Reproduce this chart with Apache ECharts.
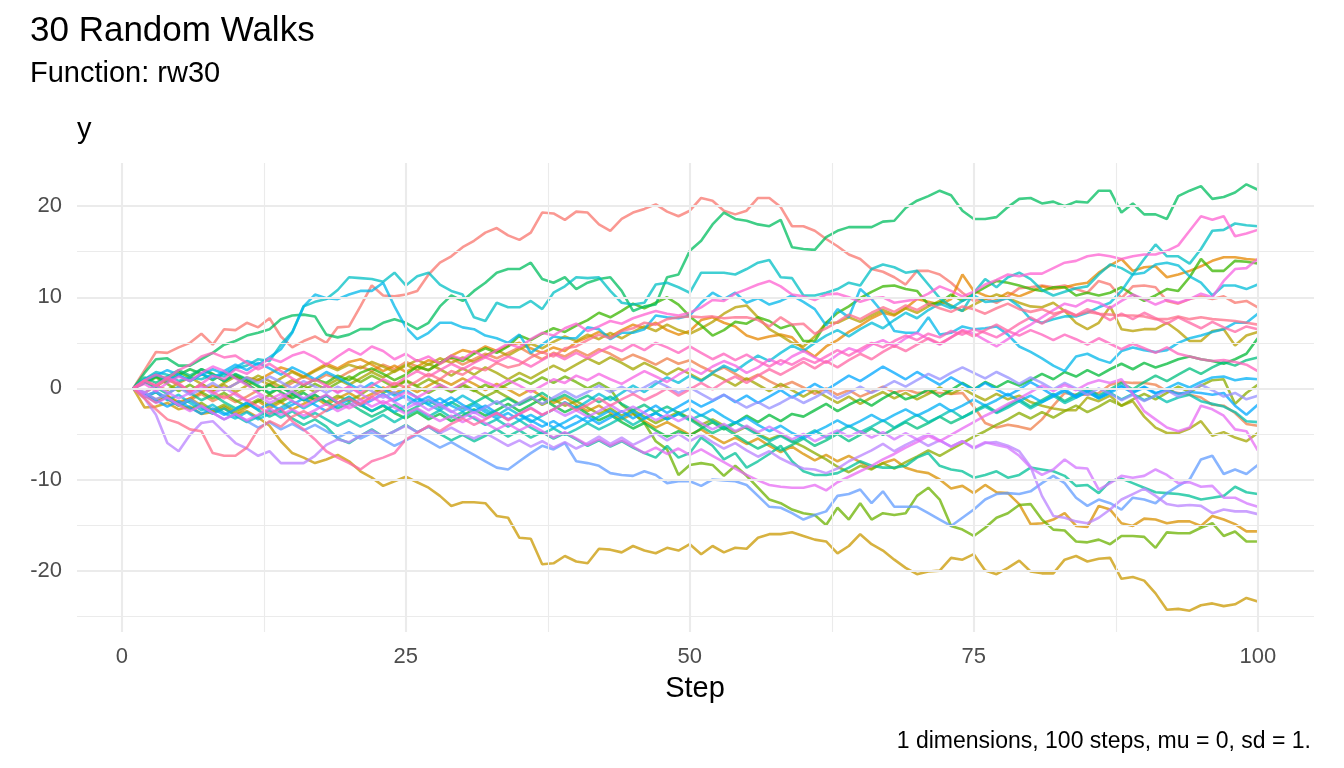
<!DOCTYPE html>
<html><head><meta charset="utf-8">
<script src="https://cdn.jsdelivr.net/npm/echarts@6/dist/echarts.min.js"></script>
<style>html,body{margin:0;padding:0;background:#fff}#chart{width:1344px;height:768px}</style>
</head><body><div id="chart"></div>
<script>
// ---- data: 30 random walks, values at steps 1..100 ----
const rw01 = [0,2.0,4.0,3.9,4.5,5.0,6.0,4.8,6.5,6.4, 7.2,6.7,7.7,5.7,4.5,5.2,5.7,5.0,6.7,6.8, 9.0,11.3,10.2,10.1,10.3,10.7,12.5,13.8,14.5,15.5, 16.2,17.1,17.6,16.8,16.3,17.1,19.3,19.2,18.5,19.4, 19.3,18.0,17.3,18.6,19.3,19.7,20.2,19.4,18.9,19.5, 20.9,20.6,19.5,19.1,19.5,20.9,20.9,19.9,17.8,17.8, 17.3,16.4,15.6,14.7,14.2,13.1,12.8,12.2,11.4,12.9, 12.9,12.5,11.6,10.5,9.6,9.9,9.4,10.1,11.0,11.1, 11.3,11.1,11.3,10.9,10.5,11.8,11.4,9.9,11.2,11.3, 11.1,9.6,9.3,9.8,10.1,9.8,10.1,9.4,9.6,8.9];
const rw02 = [0,-0.9,-0.4,-1.2,-1.9,-1.3,-0.6,-1.4,-0.8,-1.5, -0.9,-0.2,0.5,-0.1,0.6,1.3,0.8,1.5,1.1,1.8, 2.4,1.9,2.6,2.1,2.9,2.4,2.0,2.7,3.3,2.6, 3.2,3.8,3.3,3.9,4.5,3.8,3.2,3.9,3.5,4.2, 3.6,4.3,3.8,3.1,3.7,3.2,2.6,3.3,2.7,3.1, 2.4,1.8,2.3,1.6,0.9,1.5,0.8,0.2,0.7,0.1, -0.6,0.0,-0.7,-0.2,-0.9,-0.4,0.2,-0.5,-0.1,-0.5, -0.4,-0.5,-0.6,-0.5,-2.0,-3.8,-4.3,-4.0,-4.2,-4.5, -3.4,-1.9,-0.5,-0.7,-0.7,-0.5,0.4,0.7,0.6,0.6, 0.4,-0.3,-0.5,-0.7,-1.0,-1.8,-1.9,-2.7,-3.9,-4.1];
const rw03 = [0,-0.6,-1.2,-0.8,-1.5,-1.1,-0.4,0.3,-0.2,0.5, 1.2,0.9,1.6,2.3,1.9,1.3,2.0,2.7,2.2,2.9, 3.2,2.6,1.9,2.5,1.8,2.4,3.1,2.8,3.6,4.2, 3.9,4.6,4.1,4.7,5.0,4.4,3.9,4.5,4.1,5.1, 5.6,6.2,5.7,6.4,7.0,6.6,7.2,6.4,5.9,6.3, 7.5,7.8,7.2,6.8,5.8,5.4,5.7,5.9,5.6,4.3, 3.5,4.6,5.3,6.2,6.9,7.7,8.3,8.0,8.8,9.8, 9.5,9.2,9.8,12.5,10.7,10.2,9.8,10.5,10.1,10.6, 11.2,10.9,11.1,11.4,11.6,12.7,13.5,14.2,12.9,13.3, 13.4,12.2,12.5,12.9,13.4,14.0,14.4,14.4,14.2,14.1];
const rw04 = [0,-0.8,-1.5,-0.9,-1.7,-1.1,-1.9,-2.6,-2.0,-2.8, -2.1,-1.4,-2.2,-1.5,-2.3,-1.7,-1.0,-1.8,-1.1,-0.5, -1.2,-0.6,0.1,-0.6,0.2,-0.4,0.3,1.0,0.4,1.1, 0.5,-0.2,0.5,-0.1,-0.8,-0.1,-0.9,-1.6,-1.0,-1.8, -2.5,-1.9,-2.7,-3.4,-2.8,-3.6,-4.3,-3.7,-4.4,-5.1, -4.5,-5.3,-6.0,-5.4,-6.1,-5.5,-6.3,-7.0,-6.4,-7.2, -7.9,-7.3,-8.0,-7.4,-8.1,-8.8,-8.2,-7.8,-8.7,-9.1, -9.3,-10.0,-11.0,-10.7,-11.5,-10.6,-11.4,-11.5,-12.7,-14.9, -14.8,-14.4,-13.7,-15.1,-15.2,-12.9,-13.3,-14.8,-15.1,-14.3, -14.4,-14.8,-14.6,-14.6,-15.1,-14.0,-14.4,-14.9,-15.7,-15.7];
const rw05 = [0,-2.1,-2.0,-1.6,-2.3,-2.0,-2.8,-2.6,-2.2,-2.9, -2.5,-3.2,-4.1,-5.8,-7.1,-7.6,-8.2,-7.8,-7.3,-8.0, -9.1,-9.8,-10.7,-10.2,-9.7,-10.3,-10.9,-11.8,-12.9,-12.5, -12.5,-12.6,-14.0,-14.2,-16.4,-16.5,-19.3,-19.2,-18.4,-19.0, -19.2,-17.6,-17.7,-18.0,-17.3,-17.8,-18.1,-17.5,-17.8,-17.1, -18.2,-17.3,-18.0,-17.5,-17.6,-16.4,-16.0,-16.0,-15.8,-16.2, -16.6,-16.8,-18.1,-17.3,-16.0,-17.1,-17.8,-18.8,-19.7,-20.4, -20.1,-20.0,-18.6,-18.8,-18.2,-20.0,-20.4,-19.7,-18.9,-20.1, -20.3,-20.3,-18.8,-18.4,-19.0,-18.7,-18.6,-20.9,-20.7,-21.1, -22.5,-24.3,-24.2,-24.4,-23.8,-23.6,-23.9,-23.7,-23.0,-23.4];
const rw06 = [0,-0.5,0.3,-0.2,0.6,1.2,0.5,-0.3,0.4,-0.4, 0.3,1.0,0.4,1.1,1.8,1.2,1.9,2.5,2.0,2.6, 2.2,2.9,2.4,1.8,2.5,3.1,2.6,3.3,2.8,3.4, 2.9,3.6,4.2,3.6,4.3,4.9,4.4,5.1,5.7,5.2, 5.9,5.4,6.1,5.5,6.2,6.8,6.3,7.0,6.4,6.0, 6.6,7.3,8.2,8.9,9.1,7.8,6.5,5.8,5.0,4.6, 5.7,7.2,7.2,7.8,7.3,8.0,8.6,8.1,8.8,8.3, 9.0,9.6,9.1,8.5,9.2,9.8,10.3,9.9,9.4,9.0, 8.9,9.4,8.5,7.2,6.5,7.2,9.0,6.5,6.3,6.5, 6.5,7.2,6.3,5.2,5.2,6.3,6.5,4.7,5.8,6.2];
const rw07 = [0,0.8,0.2,1.0,0.4,-0.3,0.5,-0.2,0.6,1.3, 0.7,1.4,0.8,0.2,0.9,0.3,-0.4,0.3,1.0,0.4, 1.1,1.8,1.2,1.9,2.6,2.0,2.7,2.1,1.4,2.2, 1.5,2.3,1.7,1.0,1.7,1.1,1.8,2.5,1.9,2.6, 3.3,2.7,3.4,2.8,2.1,2.8,2.2,1.5,2.2,1.6, 0.9,1.6,1.0,0.3,1.1,0.4,-0.3,0.5,-0.2,-0.9, -0.2,-0.9,-1.6,-0.9,-1.7,-1.0,-0.4,-1.1,-0.5,-1.2, -0.6,0.1,-0.6,0.0,-0.7,-1.3,-0.6,-1.2,-0.8,-1.5, -1.9,-2.2,-2.4,-2.4,-1.0,-1.4,-0.8,-1.9,-1.4,-3.1, -4.3,-4.9,-4.9,-4.4,-3.6,-5.2,-4.8,-5.4,-5.8,-4.9];
const rw08 = [0,-0.7,-1.5,-0.9,-1.7,-2.3,-1.6,-2.4,-1.8,-2.5, -1.9,-1.2,-1.9,-1.3,-0.6,-1.3,-0.7,-1.5,-0.8,-1.4, -0.7,0.1,-0.5,0.2,0.9,0.3,1.0,0.4,-0.3,0.5, -0.2,-0.9,-0.3,-1.0,-1.7,-1.0,-1.8,-1.2,-1.9,-1.4, -2.1,-2.8,-2.2,-3.0,-2.4,-3.1,-3.8,-3.2,-2.6,-3.3, -4.0,-3.4,-4.1,-4.8,-4.2,-5.0,-5.6,-5.1,-5.8,-6.4, -7.1,-7.8,-8.6,-9.2,-8.5,-8.9,-8.2,-8.8,-8.1,-7.5, -6.8,-7.4,-6.7,-6.0,-5.3,-4.7,-4.0,-3.4,-2.7,-3.3, -2.6,-3.2,-2.5,-1.9,-2.6,-2.0,-1.3,-1.9,-1.2,-0.6, -1.2,-0.5,0.2,-0.4,0.3,0.9,1.0,-1.7,-0.5,0.4];
const rw09 = [0,0.6,1.2,0.5,-0.3,0.4,-0.4,-1.1,-0.5,-1.3, -2.0,-1.4,-0.7,-1.5,-0.8,-0.2,0.5,-0.1,0.6,1.3, 0.7,1.4,0.8,0.1,0.8,0.2,-0.5,0.2,-0.4,0.3, -0.3,0.4,-0.2,0.5,1.1,0.5,1.2,0.6,1.3,0.7, 0.0,0.6,-0.1,-1.8,-2.7,-3.8,-5.8,-6.7,-9.5,-8.4, -8.2,-8.4,-9.6,-8.5,-9.6,-10.9,-12.2,-12.6,-13.3,-13.7, -13.9,-15.0,-13.1,-14.4,-12.6,-14.4,-13.7,-13.9,-13.7,-11.8, -10.9,-12.2,-15.1,-15.5,-16.2,-15.3,-14.2,-13.7,-12.8,-12.7, -14.4,-15.5,-15.6,-16.8,-16.9,-16.6,-17.1,-16.2,-16.2,-16.3, -17.5,-15.8,-15.9,-15.9,-15.3,-14.8,-16.2,-15.7,-16.8,-16.8];
const rw10 = [0,0.7,1.5,1.0,1.8,1.2,2.1,1.6,0.8,1.5, 0.9,0.2,-0.6,0.1,-0.5,0.3,1.0,0.6,1.4,0.9, 1.7,2.2,1.6,0.9,1.5,2.4,2.0,2.8,3.5,3.0, 3.8,4.4,3.9,4.6,5.8,5.3,6.0,6.6,6.2,6.9, 7.5,8.3,7.8,8.5,9.3,8.8,9.4,10.0,9.2,7.9, 6.9,5.8,6.4,7.3,7.1,7.8,7.4,6.6,7.0,5.2, 5.2,7.2,8.3,9.0,9.9,10.6,11.2,11.3,10.9,10.7, 9.2,9.4,10.3,9.6,10.4,11.1,11.8,11.6,11.3,10.9, 10.7,11.1,11.1,10.2,10.5,10.2,10.5,11.1,10.3,9.6, 10.2,10.9,10.7,12.2,14.2,12.9,12.9,14.0,13.9,13.7];
const rw11 = [0,0.6,1.3,0.7,1.5,2.1,1.6,0.9,1.7,1.2, 0.5,-0.3,0.4,-0.4,-1.1,-0.5,-1.3,-0.8,-1.6,-1.0, -1.8,-2.5,-1.9,-2.7,-3.3,-2.6,-3.4,-2.8,-3.6,-3.0, -2.3,-3.0,-2.4,-1.7,-2.5,-1.8,-1.1,-1.9,-2.6,-2.0, -2.8,-3.5,-2.9,-3.7,-4.4,-3.8,-4.6,-5.3,-4.7,-5.2, -4.4,-3.7,-4.5,-3.8,-3.0,-3.7,-2.9,-3.6,-2.8,-3.1, -2.4,-1.7,-2.5,-1.8,-1.2,-1.9,-1.1,-0.4,-1.2,-0.8, -0.1,-0.9,-0.2,0.6,-0.1,0.7,0.1,0.8,0.3,0.9, 1.6,1.0,1.8,1.3,2.0,1.4,2.1,2.7,2.1,2.8, 2.3,2.7,3.2,3.5,3.2,3.0,2.7,3.2,3.8,5.5];
const rw12 = [0,1.7,3.2,3.3,2.5,2.5,3.2,3.9,4.8,5.2, 5.8,6.1,6.5,7.6,8.0,8.1,7.9,5.9,5.6,5.9, 6.5,6.5,7.2,7.6,7.2,6.5,7.2,9.0,10.2,9.6, 10.7,11.6,12.7,13.1,13.1,13.8,12.0,11.6,12.2,10.9, 11.6,12.0,12.2,10.7,8.5,9.0,9.2,12.2,12.5,15.1, 16.2,18.0,19.3,18.6,18.4,18.0,17.8,18.5,15.5,15.3, 15.2,16.6,17.3,17.7,17.7,17.7,18.3,18.4,19.8,20.6, 21.1,21.7,21.2,19.5,18.6,18.6,18.8,19.9,20.8,20.9, 20.3,20.5,20.0,20.5,20.4,21.7,21.7,19.3,20.3,19.1, 19.1,18.6,21.1,21.7,22.2,20.8,21.0,21.5,22.4,21.8];
const rw13 = [0,1.2,0.6,1.3,2.0,1.4,2.1,1.5,0.8,1.6, 1.0,0.3,-0.5,0.2,-0.6,-1.3,-0.7,-1.5,-2.2,-1.6, -2.4,-3.1,-2.5,-1.8,-2.6,-2.0,-1.3,-2.1,-1.5,-2.2, -1.6,-0.9,-1.7,-1.1,-1.8,-1.2,-0.5,-1.3,-0.7,-1.4, -0.8,-1.5,-0.9,-1.7,-2.4,-1.8,-2.6,-2.0,-2.7,-3.4, -4.2,-4.9,-4.3,-5.1,-5.9,-6.6,-6.0,-6.8,-6.2,-5.5, -6.3,-5.7,-5.0,-5.8,-5.1,-4.4,-5.1,-4.4,-3.7,-4.4, -3.8,-3.1,-3.8,-3.2,-2.5,-1.8,-2.6,-1.9,-1.2,-2.0, -1.3,-0.6,-1.4,-0.7,0.0,-0.8,-0.1,0.6,-0.1,0.7, 1.4,0.8,1.5,2.2,1.6,2.3,2.9,2.5,3.1,3.4];
const rw14 = [0,0.7,0.1,-0.6,0.2,-0.5,-1.3,-0.7,-1.5,-2.2, -1.6,-2.4,-3.1,-2.5,-3.3,-4.0,-3.4,-4.2,-5.5,-6.0, -5.2,-4.5,-5.3,-4.7,-4.0,-4.8,-4.2,-5.0,-5.7,-5.1, -5.8,-5.2,-4.5,-5.3,-4.6,-5.4,-4.8,-5.5,-4.9,-5.6, -6.3,-5.7,-6.4,-5.8,-6.5,-7.1,-7.6,-6.3,-7.6,-7.1, -5.4,-6.3,-7.8,-7.1,-8.7,-8.0,-7.2,-6.3,-8.0,-9.1, -9.5,-9.5,-9.3,-8.7,-8.0,-8.5,-8.7,-8.7,-8.5,-7.6, -7.1,-8.5,-8.9,-9.1,-9.8,-9.5,-9.1,-9.8,-9.5,-8.7, -8.9,-9.1,-9.6,-10.7,-10.6,-11.5,-10.2,-9.9,-10.4,-10.9, -11.4,-11.5,-11.6,-11.8,-12.2,-12.0,-11.8,-10.8,-11.4,-11.6];
const rw15 = [0,-1.0,-0.4,-1.1,-1.9,-1.3,-2.1,-2.8,-2.2,-3.0, -3.7,-3.1,-2.4,-3.2,-2.5,-3.3,-2.7,-3.4,-4.1,-3.5, -4.2,-3.6,-2.9,-3.7,-3.0,-2.3,-3.1,-2.4,-3.2,-2.6, -3.3,-4.0,-3.4,-4.2,-3.5,-4.3,-5.0,-4.4,-5.1,-4.5, -3.8,-4.5,-3.9,-3.2,-4.0,-3.3,-2.7,-3.4,-2.8,-3.5, -2.9,-3.6,-4.3,-3.7,-4.4,-5.1,-5.8,-5.2,-5.9,-5.3, -4.6,-5.4,-4.8,-4.1,-4.8,-4.2,-3.5,-4.3,-3.6,-2.9, -3.7,-3.1,-2.4,-3.2,-2.6,-2.0,-2.7,-2.1,-1.4,-2.2, -1.5,-0.8,-1.6,-1.0,-0.3,-1.1,-0.5,-1.2,-0.6,-1.3, -0.8,-1.5,-1.0,-0.7,-1.4,-1.7,-2.0,-2.6,-3.6,-3.7];
const rw16 = [0,1.0,1.8,1.5,0.8,1.2,1.0,1.5,1.3,2.2, 2.5,3.2,3.0,4.8,6.2,9.0,9.5,9.8,10.8,12.2, 12.1,12.0,11.7,12.7,11.3,12.3,12.7,11.4,10.7,10.3, 7.8,7.4,9.4,8.9,8.9,9.6,8.7,10.5,11.2,12.2, 12.1,12.2,10.7,9.4,9.2,9.4,11.4,11.6,11.1,10.5, 12.7,12.7,12.7,12.5,13.1,13.8,14.1,12.2,12.1,10.2, 10.2,10.5,10.9,11.6,11.3,13.1,13.6,13.3,12.7,12.9, 11.4,9.9,9.0,8.5,10.5,12.0,11.1,12.2,12.7,12.0, 10.8,10.2,10.6,11.0,11.2,12.5,13.6,13.2,12.5,14.2, 15.8,14.5,14.5,13.7,15.3,17.3,17.4,18.1,17.9,17.8];
const rw17 = [0,-0.8,-0.4,-1.3,-0.7,-1.6,-2.4,-1.8,-2.7,-3.3, -2.6,-3.4,-2.8,-2.1,-1.4,-2.2,-1.5,-0.8,-1.6,-0.9, -1.7,-2.5,-1.8,-2.6,-1.9,-1.1,-1.8,-2.4,-1.6,-0.8, -1.5,-2.3,-3.0,-2.2,-2.9,-3.7,-3.0,-2.3,-1.5,-2.2, -1.4,-0.6,-1.3,-0.5,0.3,-0.4,0.5,1.2,0.6,1.4, 0.8,1.7,2.5,1.9,2.8,3.6,3.0,3.9,4.7,4.1, 5.0,5.8,6.4,5.7,6.5,7.2,6.6,7.5,8.3,7.7, 8.6,9.3,8.8,9.6,10.2,9.5,9.6,9.9,9.0,7.6, 7.2,7.6,7.9,7.9,8.3,8.9,9.4,10.7,12.5,12.7, 13.6,13.8,13.5,12.3,11.6,10.2,11.3,11.3,10.9,11.4];
const rw18 = [0,1.0,1.6,0.9,1.4,0.8,1.5,2.1,1.6,2.3, 3.0,2.6,3.4,4.3,6.1,9.0,10.3,9.9,9.8,10.3, 10.7,10.7,11.6,9.0,6.7,5.4,6.1,7.2,7.2,6.7, 6.5,5.8,5.5,5.0,5.9,3.9,4.8,5.7,5.5,5.5, 6.7,6.5,5.4,6.1,6.1,6.5,8.0,7.8,7.7,8.0, 9.4,10.5,9.8,10.5,9.4,9.9,9.2,9.6,10.2,9.5, 8.7,6.9,8.7,7.8,10.9,9.8,8.3,6.3,6.1,6.1, 7.8,5.9,6.1,6.8,6.5,6.6,6.8,5.9,4.6,4.0, 3.3,2.5,1.9,3.5,3.8,3.2,2.8,4.1,4.5,4.2, 4.0,4.2,5.0,5.5,5.8,6.2,6.5,7.2,7.2,8.2];
const rw19 = [0,0.9,1.4,2.0,1.5,0.8,1.6,1.1,1.9,2.6, 2.0,2.8,2.2,1.5,2.3,1.7,1.0,1.8,1.2,0.5, -0.2,0.6,-0.1,-0.8,-0.2,-1.0,-1.7,-1.1,-1.9,-2.5, -1.8,-2.6,-3.3,-2.7,-3.5,-2.9,-3.6,-4.3,-3.7,-3.0, -3.7,-3.1,-2.4,-3.2,-2.5,-3.3,-2.7,-3.4,-2.8,-2.2, -3.0,-2.3,-3.1,-3.8,-3.2,-4.0,-4.7,-4.1,-4.9,-5.5, -4.8,-4.2,-3.5,-4.2,-3.6,-2.9,-3.6,-2.9,-2.3,-3.0, -2.4,-1.7,-2.5,-1.9,-1.2,-1.9,-1.3,-0.6,-1.4,-0.8, -1.5,-0.9,-0.3,-1.0,-0.4,-1.1,-0.5,0.2,-0.5,0.1, -0.6,0.0,0.6,0.1,0.7,1.2,1.3,0.9,1.1,1.0];
const rw20 = [0,-0.6,-1.3,-2.0,-1.4,-2.1,-2.8,-2.2,-2.9,-2.3, -1.6,-2.3,-1.7,-2.4,-1.8,-1.1,-1.8,-2.5,-1.9,-1.2, -1.9,-1.3,-0.6,-1.4,-0.8,-1.5,-0.9,-1.7,-1.0,-1.8, -2.5,-1.9,-2.7,-3.4,-2.8,-3.5,-4.2,-3.6,-4.4,-3.8, -3.1,-3.9,-3.2,-2.5,-3.3,-2.6,-1.9,-2.7,-2.0,-1.3, -2.0,-1.4,-0.7,-1.5,-0.8,-1.6,-0.9,-0.2,-1.0,-0.3, 0.5,-0.2,0.6,1.4,0.8,1.6,2.4,1.7,1.0,1.8, 1.1,0.4,1.2,0.5,-0.2,0.6,-0.1,-0.8,-0.1,0.7, 0.0,-0.8,-0.1,-0.9,-0.2,-1.0,-0.3,0.3,-0.4,0.2, -0.5,-0.2,-0.6,-0.4,-0.5,-0.7,-0.5,-1.9,-2.9,-1.8];
const rw21 = [0,-0.9,-0.3,-1.1,-1.8,-1.2,-2.0,-2.7,-3.4,-2.8, -3.6,-4.3,-3.7,-4.5,-3.9,-4.6,-4.0,-4.7,-5.4,-4.8, -5.5,-4.9,-5.6,-6.3,-5.7,-5.1,-5.8,-6.5,-5.9,-6.6, -7.3,-8.0,-8.7,-8.9,-8.0,-7.1,-6.3,-6.7,-6.0,-8.0, -8.2,-8.5,-9.3,-9.5,-9.6,-9.1,-9.5,-10.4,-10.2,-10.2, -10.7,-10.0,-10.1,-10.2,-10.6,-11.8,-13.0,-13.1,-13.7,-14.4, -13.9,-13.5,-11.8,-11.6,-11.1,-12.6,-11.3,-13.0,-13.0,-13.0, -13.7,-14.4,-15.1,-14.2,-13.3,-12.2,-11.6,-11.5,-11.6,-11.3, -10.4,-9.6,-10.4,-12.0,-12.9,-12.2,-12.6,-13.3,-12.0,-12.2, -12.6,-11.5,-10.7,-10.0,-7.8,-7.4,-9.4,-8.9,-9.4,-8.4];
const rw22 = [0,-0.4,-1.2,-0.6,0.1,-0.7,-0.1,0.6,-0.2,0.5, 1.2,0.6,1.3,0.7,0.0,0.8,0.2,-0.5,0.2,-0.4, 0.3,-0.3,-1.0,-0.4,-1.1,-1.8,-1.2,-1.9,-2.6,-2.0, -2.7,-2.1,-1.4,-2.2,-1.6,-0.9,-1.7,-1.0,-0.3,-1.0, -0.4,0.3,-0.4,0.2,-0.5,0.1,0.8,0.2,-0.5,0.1, -0.6,-1.3,-0.7,-1.4,-2.1,-1.5,-2.2,-1.6,-0.9,-1.6, -1.0,-0.3,-1.1,-0.5,0.2,-0.5,0.1,0.8,0.2,0.9, 1.6,1.0,1.7,2.3,1.7,1.1,1.8,1.2,0.5,1.2, 0.6,-0.1,0.6,0.0,-0.7,0.0,-0.6,-1.3,-0.7,-1.4, -0.8,-0.2,-0.9,-0.3,0.4,-0.2,-0.9,-0.5,-1.2,-0.8];
const rw23 = [0,-1.1,-2.9,-6.0,-6.9,-5.1,-3.8,-3.6,-4.8,-6.0, -6.6,-7.4,-6.9,-8.2,-8.2,-8.2,-7.4,-6.2,-5.6,-5.9, -5.2,-4.6,-5.3,-4.7,-4.1,-4.8,-4.2,-4.9,-4.3,-5.0, -5.5,-4.9,-5.6,-6.3,-5.7,-6.4,-5.8,-6.5,-5.9,-6.6, -6.0,-5.3,-6.1,-5.4,-6.2,-5.6,-4.9,-5.7,-5.0,-5.8, -5.1,-5.9,-6.6,-6.0,-6.8,-7.5,-6.9,-7.7,-8.3,-8.8, -8.9,-9.3,-8.8,-8.0,-7.4,-6.8,-6.1,-6.9,-6.2,-5.6, -6.3,-5.7,-6.4,-5.8,-6.6,-6.0,-5.9,-6.3,-6.9,-8.6, -11.8,-14.0,-14.2,-14.6,-14.8,-14.2,-13.3,-12.2,-11.6,-11.0, -11.8,-12.7,-12.9,-12.8,-12.9,-13.7,-13.3,-13.5,-13.5,-13.8];
const rw24 = [0,-0.5,0.3,-0.4,-1.1,-0.5,0.2,-0.6,0.1,-0.7, -1.4,-0.8,-1.6,-1.0,-0.3,-1.1,-0.4,0.3,-0.5,0.2, -0.6,-1.3,-0.7,-1.5,-2.2,-1.6,-2.4,-1.7,-2.5,-3.2, -2.6,-3.3,-2.7,-3.4,-2.8,-2.1,-2.9,-2.3,-3.0,-2.4, -3.1,-2.5,-1.8,-2.6,-2.0,-2.7,-3.5,-2.9,-3.6,-3.0, -3.8,-4.5,-3.9,-4.7,-4.1,-4.8,-4.2,-4.9,-5.6,-5.0, -5.8,-5.2,-4.6,-5.3,-4.7,-5.4,-4.8,-5.6,-4.9,-5.6, -5.0,-5.7,-6.4,-5.8,-6.5,-5.9,-6.2,-6.5,-7.4,-8.7, -9.5,-8.9,-7.8,-8.7,-8.8,-11.1,-10.4,-9.6,-9.8,-9.6, -8.9,-9.5,-10.4,-10.3,-10.8,-10.7,-12.0,-12.0,-12.6,-13.0];
const rw25 = [0,-0.8,-1.6,-1.0,-1.8,-2.5,-1.9,-2.7,-3.4,-2.8, -3.5,-2.9,-2.2,-2.9,-2.3,-3.0,-2.4,-1.7,-2.5,-1.9, -1.2,-2.0,-1.4,-2.1,-2.8,-2.2,-2.9,-3.6,-3.0,-3.7, -3.1,-3.8,-4.5,-3.9,-4.6,-4.0,-4.7,-5.4,-4.8,-5.5, -6.2,-5.6,-6.3,-5.7,-6.4,-7.1,-6.5,-7.2,-6.6,-7.3, -6.7,-7.4,-8.1,-8.8,-9.5,-10.1,-10.6,-10.8,-10.9,-10.9, -10.6,-11.2,-10.3,-9.7,-9.1,-8.5,-7.8,-7.2,-6.5,-5.9, -5.2,-5.8,-5.1,-4.4,-3.7,-3.0,-2.4,-1.7,-1.1,-0.4, 0.3,-0.3,0.4,-0.2,0.5,0.9,0.6,1.0,-0.6,-2.5, -3.4,-4.3,-4.7,-4.3,-1.9,-2.3,-3.0,-4.5,-4.7,-6.8];
const rw26 = [0,0.5,-0.3,0.6,1.3,0.8,1.7,2.4,1.9,1.1, 0.4,-0.5,-1.2,-0.6,-1.4,-2.0,-1.3,-0.7,-1.5,-2.2, -1.6,-0.9,-1.7,-1.1,-0.4,-1.0,-0.3,0.4,-0.2,0.5, 1.3,0.7,0.2,0.9,0.3,-0.4,0.3,1.0,0.6,1.4, 0.9,1.6,1.0,0.5,1.2,1.9,1.3,0.7,1.5,2.2, 1.6,2.4,3.0,2.5,1.7,2.3,3.2,2.6,3.5,4.1, 3.4,2.8,3.7,4.4,4.0,4.8,5.3,4.6,5.5,6.1, 5.4,4.8,5.6,6.4,6.0,5.3,4.6,5.4,6.3,7.0, 7.8,8.6,9.3,9.0,9.7,9.4,8.8,9.6,10.3,9.8, 9.2,9.7,9.4,9.8,10.4,10.0,11.8,13.1,13.2,14.2];
const rw27 = [0,0.8,0.3,1.2,0.6,-0.4,0.5,1.4,1.0,2.1, 1.6,2.4,3.3,2.9,3.6,4.0,3.4,2.6,3.5,4.3, 3.7,4.6,4.1,3.2,3.8,3.0,3.5,2.7,3.6,3.2, 4.1,3.4,4.2,4.9,4.5,5.4,6.1,5.8,6.6,7.1, 6.3,6.8,7.4,7.1,7.7,8.1,8.5,8.2,8.0,8.3, 8.9,9.7,9.6,10.4,10.9,11.4,11.8,11.2,10.3,10.1, 9.7,10.3,10.4,10.0,9.5,9.9,10.0,9.4,9.6,9.8, 10.4,11.2,10.7,10.1,10.6,11.4,11.9,12.5,12.3,12.6, 12.6,13.2,13.8,14.0,14.5,14.7,14.5,14.2,14.5,14.7, 14.7,15.1,15.7,17.3,18.9,18.5,18.9,16.7,17.0,17.4];
const rw28 = [0,0.9,1.5,1.1,2.0,2.6,3.5,3.9,3.4,3.6, 2.8,2.1,2.7,1.9,1.1,0.4,1.0,0.3,-0.4,0.2, -0.5,0.3,1.0,0.4,1.2,1.9,1.3,2.0,2.7,2.1, 2.8,3.4,2.9,3.5,3.0,2.4,3.1,3.8,3.2,3.9, 3.3,4.0,4.6,4.1,4.8,4.2,5.0,4.5,3.9,4.6, 3.9,3.2,3.8,3.1,3.7,3.0,2.4,3.1,2.6,3.3, 2.8,3.5,4.2,3.6,4.3,5.0,4.5,5.2,5.8,5.3, 6.0,5.6,6.3,5.9,6.5,6.1,5.6,6.3,5.8,6.4, 5.9,5.3,5.9,5.4,4.8,5.5,4.9,4.3,4.9,4.4, 3.9,4.5,3.8,3.5,3.2,3.0,3.1,2.9,2.6,1.9];
const rw29 = [0,0.9,0.3,1.0,0.4,-0.3,0.4,-0.4,-1.1,-0.5, -1.3,-2.0,-2.8,-2.2,-3.6,-4.5,-5.6,-6.9,-7.6,-8.2, -8.9,-8.0,-7.6,-7.1,-5.6,-4.9,-4.1,-4.7,-3.9,-3.3, -4.0,-3.4,-2.7,-3.5,-2.8,-2.2,-2.9,-2.3,-1.6,-2.4, -1.8,-1.1,-1.9,-1.2,-0.6,-1.3,-0.7,0.0,-0.8,-0.1, 0.6,-0.1,0.7,1.3,0.6,1.4,2.1,1.5,2.2,2.9, 2.2,3.0,2.3,3.1,3.8,3.2,4.0,4.7,4.1,4.8, 5.5,4.9,5.6,6.3,5.7,6.4,7.0,6.3,7.1,7.8, 7.1,7.9,8.6,8.0,8.7,8.2,7.5,8.2,7.6,8.3, 7.7,7.1,7.8,7.2,6.6,7.3,6.7,6.2,6.8,6.5];
const rw30 = [0,-1.1,-2.3,-3.4,-3.8,-4.5,-4.7,-7.1,-7.4,-7.4, -6.5,-4.5,-3.6,-4.2,-3.1,-2.5,-3.2,-2.4,-1.6,-1.1, -1.8,-0.9,-0.2,0.6,0.1,0.8,1.6,1.0,1.9,1.5, 2.3,2.0,2.8,2.3,2.6,3.4,4.0,3.5,4.4,4.6, 5.3,5.9,5.5,6.3,6.6,7.2,7.0,7.6,7.8,7.9, 7.8,7.9,7.7,7.8,7.8,7.5,6.8,7.8,7.0,7.1, 6.0,6.6,7.3,8.1,7.6,8.3,8.9,8.4,9.1,8.6, 9.3,8.8,8.4,9.0,8.7,8.2,8.8,9.3,8.7,8.4, 8.7,8.2,8.5,8.0,8.4,8.2,8.1,8.0,8.0,7.9, 7.6,7.6,7.9,7.6,7.8,7.6,7.5,7.4,7.2,7.0];

const xTickValues = [0, 25, 50, 75, 100];
const yTickValues = [-20, -10, 0, 10, 20];
const xMinorBreaks = [12.5, 37.5, 62.5, 87.5];
const yMinorBreaks = [-25, -15, -5, 5, 15];

const walks = [rw01,rw02,rw03,rw04,rw05,rw06,rw07,rw08,rw09,rw10,rw11,rw12,rw13,rw14,rw15,
               rw16,rw17,rw18,rw19,rw20,rw21,rw22,rw23,rw24,rw25,rw26,rw27,rw28,rw29,rw30];

// ggplot2 default hue palette (hcl, c=100, l=65)
function hcl(h, c, l) {
  const hr = h * Math.PI / 180;
  const U = c * Math.cos(hr), V = c * Math.sin(hr);
  const Xn = 95.047, Yn = 100, Zn = 108.883;
  const den = Xn + 15 * Yn + 3 * Zn;
  const un = 4 * Xn / den, vn = 9 * Yn / den;
  const Y = Yn * Math.pow((l + 16) / 116, 3);
  const up = U / (13 * l) + un, vp = V / (13 * l) + vn;
  const X = Y * 9 * up / (4 * vp), Z = Y * (12 - 3 * up - 20 * vp) / (4 * vp);
  const x = X / 100, y = Y / 100, z = Z / 100;
  const r = 3.2404542 * x - 1.5371385 * y - 0.4985314 * z;
  const g = -0.9692660 * x + 1.8760108 * y + 0.0415560 * z;
  const b = 0.0556434 * x - 0.2040259 * y + 1.0572252 * z;
  const gam = v => { v = Math.max(0, Math.min(1, v)); return v <= 0.0031308 ? 12.92 * v : 1.055 * Math.pow(v, 1 / 2.4) - 0.055; };
  return 'rgb(' + [r, g, b].map(v => Math.round(gam(v) * 255)).join(',') + ')';
}
const colors = walks.map((w, i) => hcl(15 + i * 12, 100, 65));

const FONT = "'Liberation Sans', Arial, Helvetica, sans-serif";
const gridMajor = '#EBEBEB';

const gridLines = [];
xMinorBreaks.forEach(v => gridLines.push({ xAxis: v, lineStyle: { color: gridMajor, width: 1.1, type: 'solid' } }));
yMinorBreaks.forEach(v => gridLines.push({ yAxis: v, lineStyle: { color: gridMajor, width: 1.1, type: 'solid' } }));
xTickValues.forEach(v => gridLines.push({ xAxis: v, lineStyle: { color: gridMajor, width: 2.1, type: 'solid' } }));
yTickValues.forEach(v => gridLines.push({ yAxis: v, lineStyle: { color: gridMajor, width: 2.1, type: 'solid' } }));

const series = [{
  type: 'line', data: [], silent: true, z: 1, animation: false,
  markLine: { silent: true, symbol: ['none', 'none'], label: { show: false }, animation: false, data: gridLines }
}];
walks.forEach((w, i) => {
  series.push({
    type: 'line', name: String(i + 1),
    data: w.map((v, j) => [j + 1, v]),
    showSymbol: false, symbol: 'none', silent: true, animation: false, z: 2,
    lineStyle: { width: 2.6, color: colors[i], opacity: 0.75 },
    itemStyle: { color: colors[i] },
    emphasis: { disabled: true }
  });
});

const chart = echarts.init(document.getElementById('chart'), null, { renderer: 'canvas' });
chart.setOption({
  backgroundColor: '#ffffff',
  animation: false,
  grid: { left: 77, right: 30, top: 163, bottom: 136, containLabel: false },
  xAxis: {
    type: 'value', min: -3.95, max: 104.95,
    axisLine: { show: false }, axisTick: { show: false }, splitLine: { show: false },
    axisLabel: { customValues: xTickValues, fontSize: 22, color: '#4D4D4D', fontFamily: FONT, margin: 25, verticalAlign: 'middle' }
  },
  yAxis: {
    type: 'value', min: -26.74, max: 24.74,
    axisLine: { show: false }, axisTick: { show: false }, splitLine: { show: false },
    axisLabel: { customValues: yTickValues, fontSize: 22, color: '#4D4D4D', fontFamily: FONT, margin: 15 }
  },
  graphic: [
    { type: 'text', x: 30, y: 31, style: { text: '30 Random Walks', font: "35px " + FONT, fill: '#000', align: 'left', verticalAlign: 'middle' } },
    { type: 'text', x: 30, y: 74, style: { text: 'Function: rw30', font: "29px " + FONT, fill: '#000', align: 'left', verticalAlign: 'middle' } },
    { type: 'text', x: 77, y: 130, style: { text: 'y', font: "29px " + FONT, fill: '#000', align: 'left', verticalAlign: 'middle' } },
    { type: 'text', x: 695, y: 689, style: { text: 'Step', font: "29px " + FONT, fill: '#000', align: 'center', verticalAlign: 'middle' } },
    { type: 'text', x: 1311, y: 742, style: { text: '1 dimensions, 100 steps, mu = 0, sd = 1.', font: "23px " + FONT, fill: '#000', align: 'right', verticalAlign: 'middle' } }
  ],
  series: series
});
</script>
</body></html>
